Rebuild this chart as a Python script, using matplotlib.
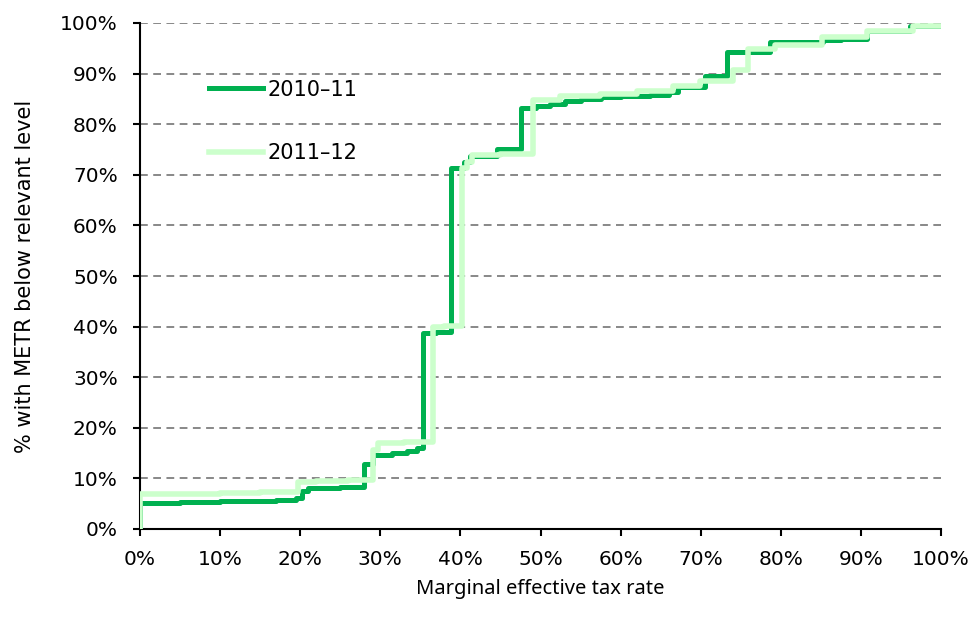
import numpy as np
import matplotlib
matplotlib.use("Agg")
import matplotlib.pyplot as plt
from matplotlib.ticker import FuncFormatter

plt.rcParams['font.family'] = ['DejaVu Sans']

# step points (x = METR %, y = cumulative % below), steps-post
x_2010 = [0, 0, 5, 10, 14, 17, 19.5, 20.2, 21, 25, 28.0, 29.1, 31.5, 33.3, 34.6,
          35.3, 37, 38.8, 40.5, 41.2, 44.6, 47.6, 49.5, 51.2, 53, 55, 57.5, 60,
          63.7, 66, 67.2, 70.5, 73.3, 78.6, 85.3, 87.5, 90.7, 96.1, 100]
y_2010 = [0, 5.2, 5.3, 5.5, 5.6, 5.8, 6.1, 7.5, 8.2, 8.3, 12.8, 14.7, 15.0, 15.5, 16.0,
          38.7, 39.0, 71.3, 72.5, 73.7, 75.1, 83.2, 83.5, 84.0, 84.5, 85.0, 85.3, 85.5,
          85.8, 86.3, 87.4, 89.6, 94.3, 96.3, 96.6, 96.9, 98.5, 99.4, 99.4]

x_2011 = [0, 0, 5, 10, 15, 19.7, 22, 26, 29.1, 29.7, 33, 36.6, 38, 40.2, 40.8, 41.5,
          45, 49.1, 52.4, 57.4, 62, 66.5, 69.9, 74.0, 75.9, 79.3, 85.1, 90.7, 96.5, 100]
y_2011 = [0, 6.9, 7.0, 7.2, 7.4, 9.3, 9.5, 9.7, 15.7, 16.9, 17.2, 40.0, 40.2, 71.3, 72.5, 73.9,
          74.1, 84.8, 85.5, 86.0, 86.5, 87.5, 88.6, 90.7, 94.9, 95.7, 97.2, 98.5, 99.4, 99.4]

x_ticks = np.arange(0, 101, 10)
y_ticks = np.arange(0, 101, 10)

fig = plt.figure(figsize=(9.73, 6.26), dpi=100)
ax = fig.add_axes([140 / 973, 1 - 529 / 626, 801 / 973, 506 / 626])

ax.step(x_2010, y_2010, where='post', color='#00B050', lw=3.6,
        solid_joinstyle='round', label='2010–11', zorder=3)
ax.step(x_2011, y_2011, where='post', color='#CCFFCC', lw=4.0,
        solid_joinstyle='round', label='2011–12', zorder=4)

ax.set_xlim(0, 100)
ax.set_ylim(0, 100)
ax.set_xticks(x_ticks)
ax.set_yticks(y_ticks)
pct = FuncFormatter(lambda v, _: f'{v:.0f}%')
ax.xaxis.set_major_formatter(pct)
ax.yaxis.set_major_formatter(pct)
ax.tick_params(direction='out', length=5, width=1.5, labelsize=14.5)
ax.tick_params(axis='y', pad=11)
ax.tick_params(axis='x', pad=10)

ax.yaxis.grid(True, linestyle=(0, (4, 2.8)), linewidth=1.4, color='#888888')
ax.set_axisbelow(True)
for s in ['top', 'right']:
    ax.spines[s].set_visible(False)
for s in ['left', 'bottom']:
    ax.spines[s].set_linewidth(1.5)

ax.set_xlabel('Marginal effective tax rate', fontsize=14.5,
              family=['Noto Sans', 'DejaVu Sans'], labelpad=7)
ax.set_ylabel('% with METR below relevant level', fontsize=15, labelpad=18)

ax.legend(loc='upper left', bbox_to_anchor=(0.063, 0.925), frameon=False,
          fontsize=15, handlelength=2.6, handletextpad=0.2, labelspacing=2.1)

fig.savefig('out.png', dpi=100)
